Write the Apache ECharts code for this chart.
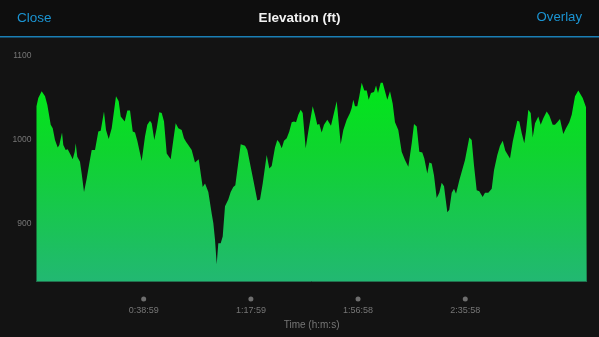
<!DOCTYPE html>
<html>
<head>
<meta charset="utf-8">
<script src="https://cdn.jsdelivr.net/npm/echarts@6/dist/echarts.min.js"></script>
<style>
  html, body { margin: 0; padding: 0; background: #131313; }
  #chart { width: 599px; height: 337px; }
</style>
</head>
<body>
<div id="chart"></div>
<script>
// Elapsed time of each sample, in seconds
const timeSec = [
  0, 39, 113, 186, 236, 310, 354, 404, 463, 498, 557, 585, 637, 681, 716, 746, 790, 834, 856, 890,
  949, 986, 1037, 1096, 1152, 1205, 1277, 1349, 1401, 1473, 1517, 1576, 1641, 1735, 1794, 1838,
  1925, 1982, 2041, 2100, 2150, 2200, 2237, 2296, 2368, 2418, 2477, 2514, 2571, 2623, 2680, 2733,
  2783, 2842, 2885, 2929, 2986, 3038, 3095, 3169, 3219, 3263, 3313, 3350, 3387, 3459, 3496, 3540,
  3584, 3627, 3678, 3715, 3750, 3824, 3859, 3896, 3933, 3968, 4020, 4064, 4114, 4186, 4238, 4295,
  4339, 4382, 4457, 4551, 4601, 4660, 4747, 4819, 4878, 4937, 5024, 5081, 5133, 5205, 5255, 5299,
  5352, 5402, 5461, 5517, 5570, 5620, 5664, 5714, 5766, 5810, 5875, 5932, 6028, 6078, 6128, 6172,
  6224, 6275, 6347, 6390, 6427, 6464, 6552, 6639, 6696, 6770, 6842, 6879, 6914, 6951, 7001, 7045,
  7097, 7154, 7207, 7250, 7300, 7366, 7410, 7453, 7512, 7556, 7656, 7715, 7774, 7824, 7896, 7970,
  8042, 8115, 8189, 8239, 8298, 8355, 8420, 8464, 8529, 8573, 8625, 8675, 8734, 8791, 8843, 8894,
  8966, 9009, 9062, 9112, 9156, 9228, 9271, 9352, 9446, 9498, 9548, 9607, 9664, 9738, 9788, 9860,
  9935, 9985, 10057, 10116, 10175, 10232, 10334, 10393, 10428, 10493, 10537, 10590, 10646, 10683,
  10734, 10786, 10830, 10880, 10952, 11004, 11061, 11135, 11192, 11266, 11316, 11366, 11425, 11497,
  11556, 11628, 11681, 11753, 11825, 11862, 11921, 11993, 12008
];

// Elevation at each sample, in feet
const elevFt = [
  1040, 1050, 1058, 1052, 1042, 1018, 1014, 1000, 991, 994, 1009, 994, 988, 989, 987, 982, 977, 986, 996, 980,
  974, 960, 938, 954, 972, 988, 988, 1010, 1011, 1034, 1012, 1001, 1014, 1052, 1046, 1028,
  1022, 1035, 1035, 1010, 1009, 999, 999, 975, 1004, 1018, 1023, 1020, 1000, 1014, 1033, 1032,
  1022, 984, 986, 977, 1000, 1020, 1014, 1012, 1002, 998, 994, 996, 988, 973, 971, 977,
  960, 944, 948, 946, 938, 912, 901, 881, 852, 877, 877, 885, 921, 929, 938, 944,
  946, 964, 995, 993, 988, 972, 948, 928, 929, 948, 982, 966, 969, 991, 1000, 997,
  990, 999, 1002, 1010, 1021, 1022, 1021, 1030, 1036, 1032, 990, 1010, 1040, 1030, 1018, 1019,
  1009, 1018, 1024, 1022, 1017, 1017, 1046, 995, 1012, 1024, 1032, 1038, 1048, 1040, 1040, 1052,
  1068, 1059, 1059, 1048, 1056, 1057, 1065, 1056, 1068, 1068, 1048, 1058, 1043, 1021, 1012, 986,
  976, 968, 996, 1019, 1016, 986, 985, 978, 960, 973, 972, 958, 931, 937, 949, 945,
  914, 917, 937, 942, 936, 952, 953, 976, 1003, 1000, 970, 940, 939, 932, 937, 937,
  942, 964, 982, 993, 999, 987, 978, 998, 1000, 1023, 1022, 1008, 996, 1010,
  1036, 1032, 1003, 1020, 1028, 1018, 1026, 1034, 1029, 1018, 1018, 1021, 1025, 1007,
  1014, 1021, 1030, 1052, 1059, 1059, 1050, 1039, 1038
];

// Labelled ticks
const timeTicks = [2339, 4679, 7018, 9358];
const elevTicks = [900, 1000, 1100];

const ELEV_MIN = 832;
const ELEV_MAX = 1100;
const TIME_MAX = 12008;

function hms(sec) {
  const h = Math.floor(sec / 3600);
  const m = Math.floor((sec % 3600) / 60);
  const s = Math.round(sec % 60);
  return h + ':' + String(m).padStart(2, '0') + ':' + String(s).padStart(2, '0');
}

const FONT = '"Liberation Sans", Arial, sans-serif';
const BLUE = '#1b94d2';
const GREY = '#767676';

const chart = echarts.init(document.getElementById('chart'), null, { renderer: 'canvas' });

chart.setOption({
  backgroundColor: '#131313',
  animation: false,
  graphic: [
    {
      type: 'rect', left: 0, top: 0, z: -1,
      shape: { width: 599, height: 36 },
      style: { fill: '#0e0e0e' }
    },
    {
      type: 'rect', left: 0, top: 36, z: -1,
      shape: { width: 599, height: 1.5 },
      style: { fill: '#1a7fb5' }
    }
  ],
  title: [
    {
      text: 'Close', left: 17, top: 11, padding: 0,
      textStyle: { color: BLUE, fontSize: 13.5, fontWeight: 'normal', fontFamily: FONT }
    },
    {
      text: 'Elevation (ft)', left: 'center', top: 11, padding: 0,
      textStyle: { color: '#f2f2f2', fontSize: 13.5, fontWeight: 'bold', fontFamily: FONT }
    },
    {
      text: 'Overlay', right: 17, top: 11, padding: 0,
      textStyle: { color: BLUE, fontSize: 13.2, fontWeight: 'normal', fontFamily: FONT }
    }
  ],
  grid: { left: 36.5, right: 12.3, top: 56, bottom: 56, containLabel: false },
  xAxis: {
    type: 'value',
    min: 0,
    max: TIME_MAX,
    name: 'Time (h:m:s)',
    nameLocation: 'middle',
    nameGap: 39,
    nameTextStyle: { color: GREY, fontSize: 10, fontFamily: FONT },
    splitLine: { show: false },
    axisTick: { show: false },
    axisLine: { show: true, lineStyle: { color: '#22704e', width: 1 } },
    axisLabel: {
      customValues: timeTicks,
      margin: 15,
      formatter: (v) => '{d| }\n{t|' + hms(v) + '}',
      rich: {
        d: { width: 5, height: 5, borderRadius: 2.5, backgroundColor: '#6e6e6e', lineHeight: 6 },
        t: { color: GREY, fontSize: 9, fontFamily: FONT, lineHeight: 18 }
      }
    }
  },
  yAxis: {
    type: 'value',
    min: ELEV_MIN,
    max: ELEV_MAX,
    splitLine: { show: false },
    axisTick: { show: false },
    axisLine: { show: false },
    axisLabel: {
      customValues: elevTicks,
      margin: 5,
      color: GREY,
      fontSize: 8.5,
      fontFamily: FONT,
      formatter: (v) => String(v)
    }
  },
  series: [
    {
      type: 'line',
      data: timeSec.map((t, i) => [t, elevFt[i]]),
      showSymbol: false,
      smooth: false,
      lineStyle: { width: 0 },
      areaStyle: {
        origin: 'start',
        opacity: 1,
        color: new echarts.graphic.LinearGradient(0, 0, 0, 1, [
          { offset: 0, color: '#00e818' },
          { offset: 0.35, color: '#0fd42f' },
          { offset: 1, color: '#22b872' }
        ])
      }
    }
  ]
});
</script>
</body>
</html>
